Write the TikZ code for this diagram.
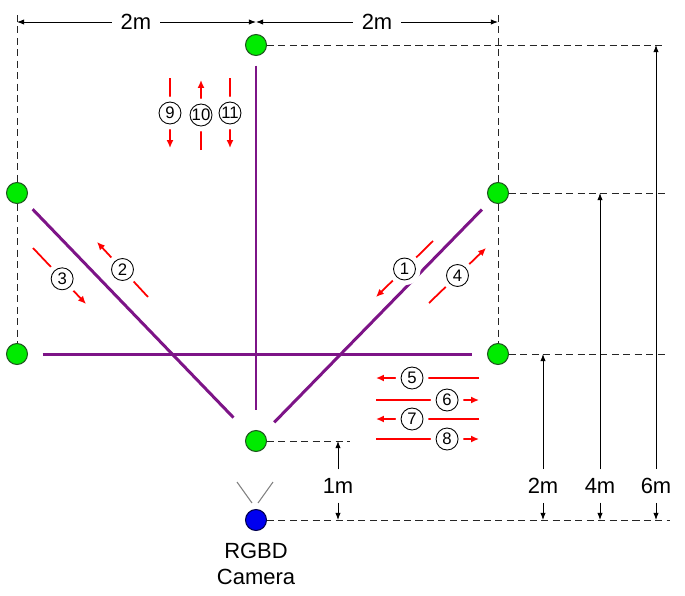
\documentclass[tikz,border=0pt]{standalone}
\usepackage{fontspec}
\setmainfont{Liberation Sans}
\usetikzlibrary{positioning}
\usetikzlibrary{calc}
\usetikzlibrary{arrows.meta}
\definecolor{sensorgreen}{RGB}{0,235,0}
\definecolor{sensoredge}{RGB}{30,85,30}
\definecolor{wallpurple}{RGB}{125,20,135}
\definecolor{camblue}{RGB}{0,0,240}

\begin{document}
\begin{tikzpicture}
    [x=0.02cm, y=-0.02cm,
    sensor/.style={circle, fill=sensorgreen, draw=sensoredge, line width=0.6pt, minimum size=0.42cm, inner sep=0pt},
    camera/.style={sensor, fill=camblue, draw=blue!30!black},
    wall/.style={wallpurple, line width=1.7pt},
    guide/.style={dash pattern=on 4pt off 2.5pt, black!85, line width=0.5pt},
    dim/.style={->, >={Latex[length=4pt, width=3pt]}, line width=0.5pt},
    dimlbl/.style={inner sep=5pt, font=\fontsize{12.5}{14.7}\selectfont},
    move/.style={->, >={Latex[length=4.5pt, width=4pt]}, red, line width=1pt},
    num/.style={circle, draw=black, fill=white, text=black, line width=0.5pt, minimum size=12.5pt, inner sep=0pt, font=\fontsize{9.5}{10}\selectfont, preaction={draw=white, line width=6pt}},
    view/.style={gray, line width=0.6pt}]
    \useasboundingbox (0,0) rectangle (685,595);
    \node[sensor] (S1) at (256,45)  {};
    \node[sensor] (S2) at (17,193)  {};
    \node[sensor] (S3) at (17,354)  {};
    \node[sensor] (S4) at (498,193) {};
    \node[sensor] (S5) at (498,354) {};
    \node[sensor] (S6) at (256,441) {};
    \node[camera] (Cam) at (256,520) {};
    \node[dimlbl, inner sep=2pt, align=center] (CamTxt) at (256,564) {RGBD\\Camera};
    \coordinate (topL) at (17,15);
    \coordinate (topR) at (498,15);
    \coordinate (g1) at (665,45);
    \coordinate (g4) at (668,193);
    \coordinate (g5) at (668,354);
    \coordinate (g6) at (350,441);
    \coordinate (gc) at (670,520);
    \draw[guide] (topL) -- (S2);
    \draw[guide] (S2) -- (S3);
    \draw[guide] (topR) -- (S4);
    \draw[guide] (S4) -- (S5);
    \draw[guide] (S1) -- (g1);
    \draw[guide] (S4) -- (g4);
    \draw[guide] (S5) -- (g5);
    \draw[guide] (S6) -- (g6);
    \draw[guide] (Cam) -- (gc);
    \draw[wall, shorten <=0.19cm, shorten >=0.4cm] (S1) -- (S6);
    \draw[wall, shorten <=0.29cm, shorten >=0.29cm] (S3) -- (S5);
    \draw[wall, shorten <=0.23cm, shorten >=0.43cm] (S2) -- (S6);
    \draw[wall, shorten <=0.24cm, shorten >=0.3cm] (S4) -- (S6);
    \node[dimlbl] (w1) at (136,22) {2m};
    \node[dimlbl] (w2) at (377,22) {2m};
    \draw[dim] (w1) -- (w1 -| S2);
    \draw[dim] (w1) -- (w1 -| S1);
    \draw[dim] (w2) -- (w2 -| S1);
    \draw[dim] (w2) -- (w2 -| S4);
    \node[dimlbl] (h1) at (338,486) {1m};
    \node[dimlbl] (h2) at (543,486) {2m};
    \node[dimlbl] (h3) at (600,486) {4m};
    \node[dimlbl] (h4) at (656,486) {6m};
    \draw[dim] (h1) -- (h1 |- S6);
    \draw[dim] (h1) -- (h1 |- Cam);
    \draw[dim] (h2) -- (h2 |- S5);
    \draw[dim] (h2) -- (h2 |- Cam);
    \draw[dim] (h3) -- (h3 |- S4);
    \draw[dim] (h3) -- (h3 |- Cam);
    \draw[dim] (h4) -- (h4 |- S1);
    \draw[dim] (h4) -- (h4 |- Cam);
    \draw[view] (237,482) -- (252,503);
    \draw[view] (273,482) -- (258,503);
    \draw[move] (433,241) -- node[num] (m1) {1} (376,297);
    \draw[move] (148,297) -- node[num] (m2) {2} (97,242);
    \draw[move] (33,248) -- node[num, pos=0.55] (m3) {3} (86,304);
    \draw[move] (429,303) -- node[num] (m4) {4} (486,248);
    \draw[move] (479,378) -- node[num, pos=0.65] (m5) {5} (376,378);
    \draw[move] (376,400) -- node[num, pos=0.69] (m6) {6} (479,400);
    \draw[move] (479,419) -- node[num, pos=0.65] (m7) {7} (376,419);
    \draw[move] (376,439) -- node[num, pos=0.69] (m8) {8} (479,439);
    \draw[move] (170,78) -- node[num] (m9) {9} (170,148);
    \draw[move] (201,150) -- node[num] (m10) {10} (201,80);
    \draw[move] (230,78) -- node[num] (m11) {11} (230,148);
\end{tikzpicture}
\end{document}
